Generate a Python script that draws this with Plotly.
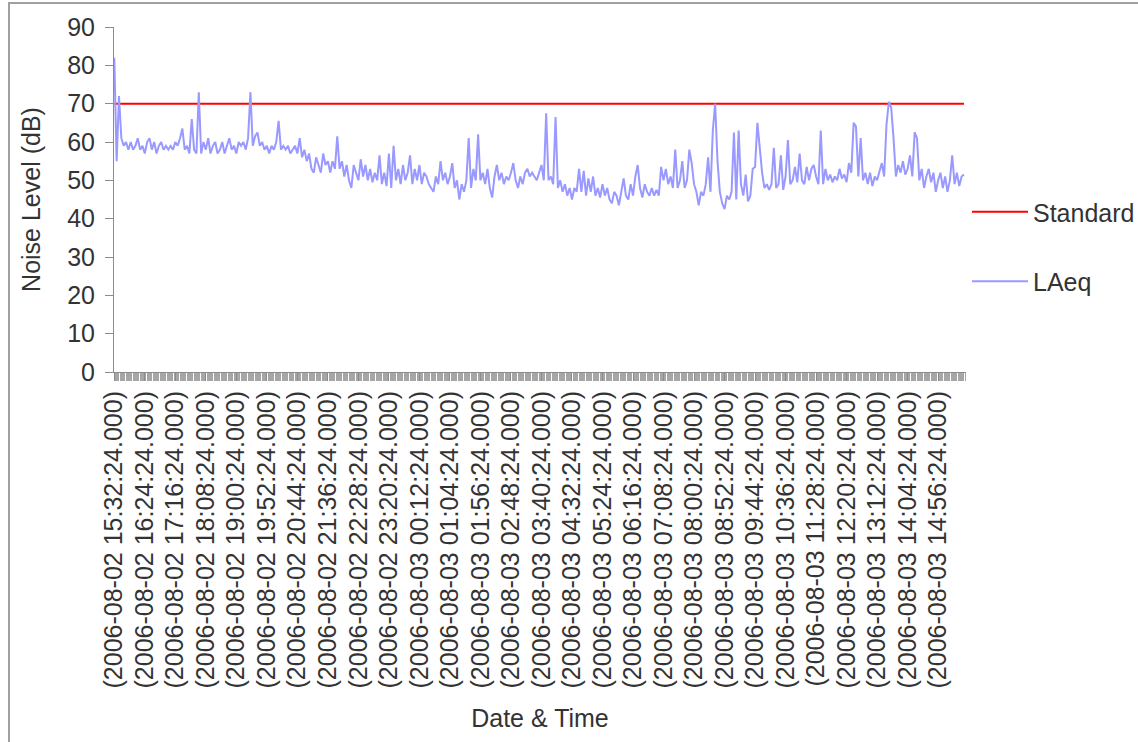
import pandas as pd
import plotly.graph_objects as go

# ---------------- data ----------------
start_time = "2006-08-02 15:32:24"
sample_minutes = 4
standard_level = 70

laeq = [
    # 15:32 - 18:28
    82, 55, 72, 61, 59, 60, 58, 60, 58, 59,
    61, 58, 59, 57, 60, 61, 58, 60, 57, 59,
    60, 58, 59, 58, 59, 58, 60, 59, 61, 63.5,
    58, 59, 57, 66, 58, 57, 73, 57, 60, 58,
    61, 57, 59, 60, 57,
    # 18:32 - 21:28
    58, 60, 57, 59, 61, 58, 59, 57, 60, 59,
    60, 58, 61, 73, 59, 61.5, 62.5, 59, 60, 58,
    59, 57, 59, 58, 60, 65.5, 58, 59, 58, 59,
    57, 58, 59, 57, 61, 56, 58, 55, 57, 53,
    52, 56, 54, 52, 57,
    # 21:32 - 00:28
    54, 55, 52, 55, 53, 61.5, 53, 55, 51, 54,
    50, 48, 54, 52, 50, 55.5, 51, 54, 50, 53,
    49.5, 52, 50, 56.5, 49, 52, 48.5, 57, 48, 59,
    50, 53, 49, 54, 50, 52, 56.5, 49, 53, 50,
    54, 49, 52, 51, 49,
    # 00:32 - 03:28
    48, 47, 51, 49, 55, 50, 52, 49, 51, 54.5,
    48, 50, 45, 49, 47, 50, 61, 48, 53, 50,
    62, 50, 52, 49, 53, 48, 45.5, 51, 54, 50,
    52, 49, 51, 50, 52, 54.5, 50, 48, 51, 49,
    52, 53, 51, 52, 51,
    # 03:32 - 06:28
    50, 52, 54, 50, 67.5, 50, 51, 49, 66.5, 48,
    50, 47, 49, 46, 48, 45, 48, 47, 53, 47,
    52.5, 46, 50.5, 47, 51, 46, 48, 45.5, 49, 46,
    48, 45, 44, 47, 46, 43.5, 47, 50.5, 46, 45,
    49, 46, 51, 54, 48,
    # 06:32 - 09:16
    45.5, 49, 47, 46, 48, 46, 47.5, 46, 53.5, 50,
    53, 49, 51, 48, 58, 48, 50, 55, 48, 50,
    58, 54.5, 49, 47, 43.5, 47, 46, 49, 56, 47,
    63, 70, 55, 47, 44, 42.5, 46, 45, 47, 62.5,
    45, 63,
    # 09:20 - 12:28
    49, 46, 51.5, 44.5, 46, 53, 53.5, 65, 58.5, 52,
    48, 49, 47.5, 49, 58.5, 48, 49, 56.5, 47.5, 51,
    60.5, 49, 50, 53.5, 49.5, 57, 50, 49, 53.5, 50,
    53, 54, 51, 49, 63, 49, 53, 50, 51.5, 49.5,
    51, 50, 53, 50.5, 51.5, 49.5, 54.5, 52,
    # 12:32 - 15:40
    65, 64, 51, 61, 50, 52, 49, 52, 48.5, 51,
    50, 52, 54.5, 51, 64.5, 70.5, 69, 61, 51, 54,
    52, 55, 51.5, 53, 56.5, 51, 62.5, 61, 50, 53,
    48, 51, 53, 49.5, 52, 47, 50, 52, 48, 51,
    47, 50, 56.5, 49, 52, 48.5, 51, 51.5,
]

tick_labels = [
    "(2006-08-02 15:32:24.000)", "(2006-08-02 16:24:24.000)",
    "(2006-08-02 17:16:24.000)", "(2006-08-02 18:08:24.000)",
    "(2006-08-02 19:00:24.000)", "(2006-08-02 19:52:24.000)",
    "(2006-08-02 20:44:24.000)", "(2006-08-02 21:36:24.000)",
    "(2006-08-02 22:28:24.000)", "(2006-08-02 23:20:24.000)",
    "(2006-08-03 00:12:24.000)", "(2006-08-03 01:04:24.000)",
    "(2006-08-03 01:56:24.000)", "(2006-08-03 02:48:24.000)",
    "(2006-08-03 03:40:24.000)", "(2006-08-03 04:32:24.000)",
    "(2006-08-03 05:24:24.000)", "(2006-08-03 06:16:24.000)",
    "(2006-08-03 07:08:24.000)", "(2006-08-03 08:00:24.000)",
    "(2006-08-03 08:52:24.000)", "(2006-08-03 09:44:24.000)",
    "(2006-08-03 10:36:24.000)", "(2006-08-03 11:28:24.000)",
    "(2006-08-03 12:20:24.000)", "(2006-08-03 13:12:24.000)",
    "(2006-08-03 14:04:24.000)", "(2006-08-03 14:56:24.000)",
]

# ---------------- derived ----------------
times = pd.date_range(start_time, periods=len(laeq), freq=f"{sample_minutes}min")
standard = [standard_level] * len(laeq)
tickvals = [pd.Timestamp(s.strip("()")) for s in tick_labels]
t0 = pd.Timestamp(start_time)
x_range = [t0 - pd.Timedelta(seconds=30), t0 + pd.Timedelta(minutes=1451.5)]

FONT = "Liberation Sans, Arial, sans-serif"
TXT = "#333333"
AX = "#8c8c8c"

fig = go.Figure()
fig.add_trace(go.Scatter(
    x=times, y=standard, name="Standard", mode="lines",
    line=dict(color="#ff0000", width=2), legendgroup="a",
))
fig.add_trace(go.Scatter(
    x=times, y=laeq, name="LAeq", mode="lines",
    line=dict(color="#9999ff", width=2), legendgroup="b",
))

W, H = 1138, 742
L, R, T, B = 114, 172, 27, 370
pw, ph = W - L - R, H - T - B


def px(xp):
    return (xp - L) / pw


def py(yp):
    return (H - B - yp) / ph


fig.update_layout(
    width=W, height=H,
    margin=dict(l=L, r=R, t=T, b=B, pad=0, autoexpand=False),
    paper_bgcolor="white", plot_bgcolor="white",
    font=dict(family=FONT, size=25, color=TXT),
    showlegend=True,
    legend=dict(
        x=px(967), y=py(189), xanchor="left", yanchor="top",
        font=dict(family=FONT, size=25, color=TXT),
        tracegroupgap=34, traceorder="grouped",
        bgcolor="rgba(0,0,0,0)", itemwidth=56,
    ),
    shapes=[dict(
        type="rect", xref="paper", yref="paper",
        x0=px(9), x1=px(1150), y0=py(760), y1=py(3),
        line=dict(color="#a0a0a0", width=2), fillcolor="rgba(0,0,0,0)",
        layer="below",
    )],
)

fig.update_yaxes(
    range=[0, 90], dtick=10, tick0=0,
    showline=True, linecolor=AX, linewidth=1,
    ticks="outside", ticklen=8, tickcolor=AX, tickwidth=1,
    showgrid=False, zeroline=False, automargin=False,
    ticklabelstandoff=5,
    tickfont=dict(family=FONT, size=25, color=TXT),
    title=dict(text="Noise Level (dB)", standoff=19,
               font=dict(family=FONT, size=25, color=TXT)),
)

fig.update_xaxes(
    type="date", range=x_range,
    tickmode="array", tickvals=tickvals, ticktext=tick_labels,
    tickangle=-90,
    showline=True, linecolor=AX, linewidth=1,
    ticks="outside", ticklen=8, tickcolor=AX, tickwidth=1,
    minor=dict(ticks="outside", ticklen=8, tickcolor="#a6a6a6", tickwidth=1,
               dtick=120000, tick0=t0, showgrid=False),
    showgrid=False, zeroline=False, automargin=False,
    tickfont=dict(family=FONT, size=25, color=TXT),
    title=dict(text="Date & Time", standoff=22,
               font=dict(family=FONT, size=25, color=TXT)),
)

fig.write_html("out.html")
